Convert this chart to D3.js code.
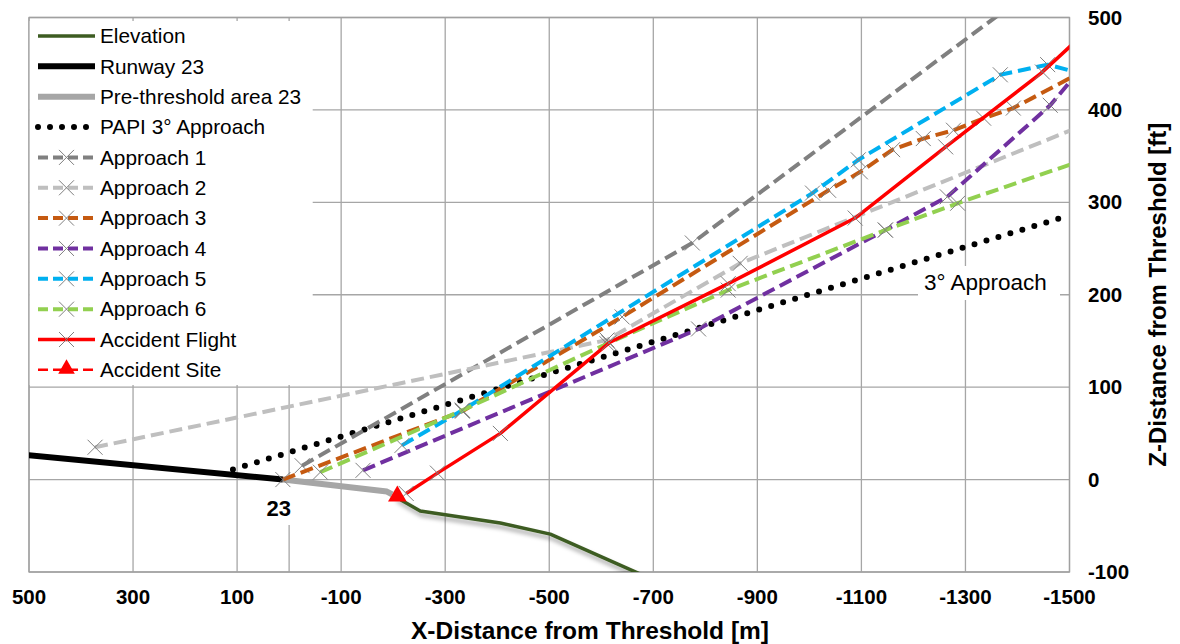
<!DOCTYPE html>
<html>
<head>
<meta charset="utf-8">
<script src="https://cdn.jsdelivr.net/npm/d3@7"></script>
<style>
  body { margin: 0; background: #fff; }
  text { font-family: "Liberation Sans", Arial, sans-serif; }
</style>
</head>
<body>
<svg id="chart" width="1180" height="644"></svg>
<script>
// x = distance from threshold [m], z = height above threshold [ft]
var elevation = [[-205, -18], [-215, -22], [-252, -34], [-406, -47], [-502, -59], [-690, -106]];
var runway23 = [[530, 28], [12, 0]];
var preThreshold = [[12, 0], [-188, -13], [-198, -16]];
var papi = [[108, 11], [-1483, 283]];
var approach1 = [[-25, 15], [-775, 256], [-1500, 560]];
var approach2 = [[373, 35], [-611, 151], [-867, 234], [-1600, 400]];
var approach3 = [[12, 0], [-333, 74], [-640, 176], [-1037, 313], [-1098, 333], [-1160, 357], [-1219, 369], [-1277, 378], [-1335, 391], [-1392, 402], [-1560, 452]];
var approach4 = [[-142, 10], [-787, 163], [-1146, 270], [-1265, 306], [-1463, 405], [-1530, 450]];
var approach5 = [[-217, 37], [-333, 75], [-1006, 310], [-1094, 346], [-1367, 438], [-1458, 449], [-1540, 437]];
var approach6 = [[-60, 8], [-333, 75], [-611, 147], [-844, 205], [-1146, 270], [-1285, 299], [-1600, 360]];
var accidentFlight = [[-225, -15], [-285, 7], [-406, 50], [-615, 148], [-844, 212], [-1088, 283], [-1262, 360], [-1448, 441], [-1540, 489]];
var accidentSite = [[-208, -18]];

var xTicks = [500, 300, 100, -100, -300, -500, -700, -900, -1100, -1300, -1500];
var yTicks = [-100, 0, 100, 200, 300, 400, 500];
var legendNames = ["Elevation", "Runway 23", "Pre-threshold area 23", "PAPI 3° Approach", "Approach 1", "Approach 2",
  "Approach 3", "Approach 4", "Approach 5", "Approach 6", "Accident Flight", "Accident Site"];

var seriesData = [elevation, runway23, preThreshold, papi, approach1, approach2, approach3, approach4, approach5, approach6, accidentFlight, accidentSite];

// styles per series
var styles = {
  "Elevation": { color: "#3d5c22", width: 3.5, shadow: true },
  "Runway 23": { color: "#000", width: 6 },
  "Pre-threshold area 23": { color: "#a6a6a6", width: 6 },
  "PAPI 3° Approach": { color: "#000", width: 6, dash: "0 12.5" },
  "Approach 1": { color: "#808080", width: 4, dash: "13 6", marker: true },
  "Approach 2": { color: "#bfbfbf", width: 4, dash: "13 6", marker: true },
  "Approach 3": { color: "#c55a11", width: 4, dash: "13 6", marker: true },
  "Approach 4": { color: "#7030a0", width: 4, dash: "13 6", marker: true },
  "Approach 5": { color: "#00b0f0", width: 4, dash: "13 6", marker: true },
  "Approach 6": { color: "#92d050", width: 4, dash: "13 6", marker: true },
  "Accident Flight": { color: "#ff0000", width: 3.5, marker: true },
  "Accident Site": { color: "#ff0000", width: 2.5, dash: "7 4", triangle: true }
};

var svg = d3.select("#chart");
var plotL = 29, plotR = 1069.5, plotT = 17.5, plotB = 572;

var x = d3.scaleLinear().domain([500, -1500]).range([plotL, plotR]);
var y = d3.scaleLinear().domain([-100, 500]).range([plotB, plotT]);

var defs = svg.append("defs");
defs.append("clipPath").attr("id", "plotClip")
  .append("rect").attr("x", plotL).attr("y", plotT).attr("width", plotR - plotL).attr("height", plotB - plotT);
defs.append("filter").attr("id", "shadow").attr("x", "-10%").attr("y", "-10%").attr("width", "130%").attr("height", "150%")
  .append("feDropShadow").attr("dx", 1.5).attr("dy", 4).attr("stdDeviation", 2)
  .attr("flood-color", "#000").attr("flood-opacity", 0.35);

////////// GRID //////////
var grid = svg.append("g").attr("stroke", "#a6a6a6").attr("stroke-width", 1.3);
grid.selectAll(".hgrid").data(yTicks).enter().append("line")
  .attr("x1", plotL).attr("x2", plotR)
  .attr("y1", function (d) { return y(d); }).attr("y2", function (d) { return y(d); });
grid.selectAll(".vgrid").data(xTicks.concat([0])).enter().append("line")
  .attr("y1", plotT).attr("y2", plotB)
  .attr("x1", function (d) { return x(d); }).attr("x2", function (d) { return x(d); });
svg.append("rect").attr("x", plotL).attr("y", plotT).attr("width", plotR - plotL).attr("height", plotB - plotT)
  .attr("fill", "none").attr("stroke", "#a0a0a0").attr("stroke-width", 1.3);

// label backgrounds
svg.append("rect").attr("x", 263).attr("y", 483).attr("width", 34).attr("height", 42).attr("fill", "#fff");
svg.append("rect").attr("x", 918).attr("y", 266).attr("width", 142).attr("height", 34).attr("fill", "#fff");

////////// SERIES //////////
var line = d3.line().x(function (d) { return x(d[0]); }).y(function (d) { return y(d[1]); });
var plot = svg.append("g").attr("clip-path", "url(#plotClip)");
var crossPath = "M-7.5,-7.5L7.5,7.5M-7.5,7.5L7.5,-7.5";

legendNames.forEach(function (name, i) {
  var s = styles[name];
  var data = seriesData[i];
  if (!s.triangle) {
    plot.append("path").datum(data)
      .attr("d", line)
      .attr("fill", "none")
      .attr("stroke", s.color)
      .attr("stroke-width", s.width)
      .attr("stroke-dasharray", s.dash || null)
      .attr("stroke-linecap", s.dash && s.dash.indexOf("0 ") === 0 ? "round" : "butt")
      .attr("stroke-linejoin", "round")
      .attr("filter", s.shadow ? "url(#shadow)" : null);
  }
  if (s.marker) {
    plot.selectAll(".m" + i).data(data).enter().append("path")
      .attr("d", crossPath)
      .attr("transform", function (d) { return "translate(" + x(d[0]) + "," + y(d[1]) + ")"; })
      .attr("stroke", "#7f7f7f").attr("stroke-width", 1).attr("fill", "none");
  }
  if (s.triangle) {
    plot.selectAll(".t" + i).data(data).enter().append("path")
      .attr("d", d3.symbol(d3.symbolTriangle, 150))
      .attr("transform", function (d) { return "translate(" + x(d[0]) + "," + y(d[1]) + ")"; })
      .attr("fill", s.color);
  }
});

////////// LABELS //////////
svg.append("text").attr("x", x(20)).attr("y", 516).attr("text-anchor", "middle")
  .attr("font-size", 22).attr("font-weight", "bold").text("23");
svg.append("text").attr("x", 924).attr("y", 290)
  .attr("font-size", 22.5).text("3° Approach");

////////// LEGEND //////////
svg.append("rect").attr("x", plotL + 0.7).attr("y", 21).attr("width", 283).attr("height", 364).attr("fill", "#fff");
var legend = svg.append("g");
legendNames.forEach(function (name, i) {
  var s = styles[name];
  var ly = 36 + i * 30.35;
  legend.append("line")
    .attr("x1", 38).attr("x2", 95).attr("y1", ly).attr("y2", ly)
    .attr("stroke", s.color).attr("stroke-width", s.width)
    .attr("stroke-dasharray", s.dash ? (s.dash.indexOf("0 ") === 0 ? "0 12" : "10 5") : null)
    .attr("stroke-linecap", s.dash && s.dash.indexOf("0 ") === 0 ? "round" : "butt");
  if (s.marker) {
    legend.append("path").attr("d", crossPath).attr("transform", "translate(66.5," + ly + ")")
      .attr("stroke", "#7f7f7f").attr("stroke-width", 1).attr("fill", "none");
  }
  if (s.triangle) {
    legend.append("path").attr("d", d3.symbol(d3.symbolTriangle, 120))
      .attr("transform", "translate(66.5," + (ly - 1) + ")").attr("fill", s.color);
  }
  legend.append("text").attr("x", 100).attr("y", ly).attr("dy", "0.35em")
    .attr("font-size", 20.8).text(name);
});

////////// AXES //////////
svg.selectAll(".xtick").data(xTicks).enter().append("text")
  .attr("x", function (d) { return x(d); }).attr("y", 604)
  .attr("text-anchor", "middle").attr("font-size", 20.5).attr("font-weight", "bold")
  .text(function (d) { return d; });
svg.selectAll(".ytick").data(yTicks).enter().append("text")
  .attr("x", 1088).attr("y", function (d) { return y(d) + 7; })
  .attr("font-size", 20.5).attr("font-weight", "bold")
  .text(function (d) { return d; });

svg.append("text").attr("x", 590).attr("y", 639).attr("text-anchor", "middle")
  .attr("font-size", 24.5).attr("font-weight", "bold").text("X-Distance from Threshold [m]");
svg.append("text").attr("transform", "translate(1166," + ((plotT + plotB) / 2) + ") rotate(-90)")
  .attr("text-anchor", "middle").attr("font-size", 24).attr("font-weight", "bold")
  .text("Z-Distance from Threshold [ft]");
</script>
</body>
</html>
